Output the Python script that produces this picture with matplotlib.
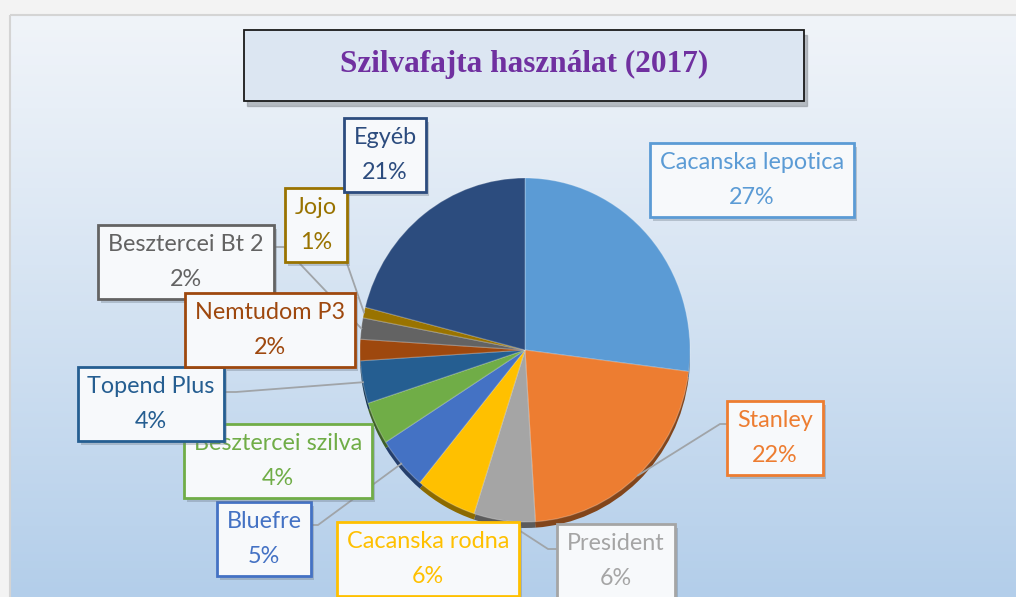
import numpy as np
import matplotlib
matplotlib.use("Agg")
import matplotlib.pyplot as plt
from matplotlib.patches import Rectangle
from matplotlib.colors import to_rgb

# ---- data ----
labels = ["Cacanska lepotica", "Stanley", "President", "Cacanska rodna", "Bluefre",
          "Besztercei szilva", "Topend Plus", "Nemtudom P3", "Besztercei Bt 2", "Jojo", "Egyéb"]
values = [27, 22, 6, 6, 5, 4, 4, 2, 2, 1, 21]
colors = ["#5B9BD5", "#ED7D31", "#A5A5A5", "#FFC000", "#4472C4",
          "#70AD47", "#255E91", "#9E480E", "#636363", "#997300", "#2C4C7E"]
title = "Szilvafajta használat (2017)"

# ---- layout (pixels) ----
W, H = 1016, 597
cx, cy, rx, ry = 525, 350, 165, 172
label_pos = {
    "Cacanska lepotica": (752, 180),
    "Stanley": (775, 438),
    "President": (616, 561),
    "Cacanska rodna": (428, 559),
    "Bluefre": (264, 539),
    "Besztercei szilva": (278, 461),
    "Topend Plus": (151, 404),
    "Nemtudom P3": (270, 330),
    "Besztercei Bt 2": (186, 262),
    "Jojo": (316, 225),
    "Egyéb": (385, 155),
}
label_z = {"Bluefre": 3, "Besztercei szilva": 4, "Topend Plus": 5,
           "Besztercei Bt 2": 3, "Nemtudom P3": 5}
leader_anchor = {
    "Stanley": (729, 424, 720),
    "President": (560, 549, 548),
    "Bluefre": (308, 525, 318),
    "Topend Plus": (222, 392, 236),
    "Besztercei Bt 2": (270, 247, 284),
    "Jojo": (343, 252, 343),
}

fig = plt.figure(figsize=(W / 100, H / 100), dpi=100)

# background
bg = fig.add_axes([0, 0, 1, 1], zorder=0)
bg.set_xlim(0, W); bg.set_ylim(H, 0); bg.axis("off")
bg.add_patch(Rectangle((0, 0), W, H, color="#F3F3F3", zorder=0))
grad = np.linspace(0, 1, 256)[:, None]
top = np.array(to_rgb("#F0F4F9")); bot = np.array(to_rgb("#B3CEEA"))
g = grad[..., None] ** 1.1
img = top[None, None, :] * (1 - g) + bot[None, None, :] * g
bg.imshow(img, extent=(10, W, H, 15), aspect="auto", zorder=1)
bg.add_patch(Rectangle((10, 15), W, H, fill=False, ec="#D4D4D4", lw=1.5, zorder=2))

# title box
bg.add_patch(Rectangle((247, 35), 560, 71, color="#8A8F96", alpha=0.55, zorder=3))
bg.add_patch(Rectangle((244, 30), 560, 71, fc="#DCE6F2", ec="#1A1A1A", lw=1.3, zorder=4))
bg.text(524, 64, title, ha="center", va="center", fontsize=22.5, fontweight="bold",
        family="Liberation Serif", color="#7030A0", zorder=5)

# pie: side (3D depth) then top
def pie_axes(dy, z):
    return fig.add_axes([(cx - rx) / W, 1 - (cy + ry + dy) / H, 2 * rx / W, 2 * ry / H], zorder=z)

def darker(c, f=0.55):
    r, g_, b = to_rgb(c)
    return (r * f, g_ * f, b * f)

side = pie_axes(6, 1)
side.pie(values, colors=[darker(c) for c in colors], startangle=90, counterclock=False,
         radius=1, wedgeprops=dict(linewidth=0))
side.set_xlim(-1, 1); side.set_ylim(-1, 1); side.set_aspect("auto"); side.axis("off")
side.patch.set_alpha(0)

pa = pie_axes(0, 2)
pa.pie(values, colors=colors, startangle=90, counterclock=False, radius=1,
       wedgeprops=dict(linewidth=0.8, edgecolor=(1, 1, 1, 0.25)))
pa.set_xlim(-1, 1); pa.set_ylim(-1, 1); pa.set_aspect("auto"); pa.axis("off")
pa.patch.set_alpha(0)

# overlay for labels
ov = fig.add_axes([0, 0, 1, 1], zorder=3)
ov.set_xlim(0, W); ov.set_ylim(H, 0); ov.axis("off"); ov.patch.set_alpha(0)

total = float(sum(values))
cum = np.cumsum(values) - np.array(values) / 2.0
texts = []
for lab, v, c, m in zip(labels, values, colors, cum):
    ang = np.deg2rad(90 - 360 * m / total)
    px, py = cx + rx * np.cos(ang), cy - ry * np.sin(ang)
    if lab in leader_anchor:
        ax_, ay_, ex = leader_anchor[lab]
        ov.plot([ax_, ex, px], [ay_, ay_, py], color="#A0A4A8", lw=1.3, zorder=1)
    x, y = label_pos[lab]
    pct = f"{v / total * 100:.0f}%"
    z = label_z.get(lab, 4) * 2
    t = ov.text(x, y, f"{lab}\n{pct}", ha="center", va="center", fontsize=16.8,
                family="Lato", linespacing=1.78, color=c,
                bbox=dict(boxstyle="square,pad=0.42", fc="#F7F9FB", ec=c, lw=2), zorder=z + 1)
    texts.append((t, z))

# drop shadows behind each label box
fig.canvas.draw()
r = fig.canvas.get_renderer()
inv = ov.transData.inverted()
for t, z in texts:
    bb = t.get_bbox_patch().get_window_extent(r)
    (x0, y0), (x1, y1) = inv.transform([[bb.x0, bb.y0], [bb.x1, bb.y1]])
    ov.add_patch(Rectangle((min(x0, x1) + 3, min(y0, y1) + 4), abs(x1 - x0), abs(y1 - y0),
                           fc=(0.42, 0.47, 0.52, 0.35), ec="none", zorder=z))

fig.savefig("out.png", dpi=100)
